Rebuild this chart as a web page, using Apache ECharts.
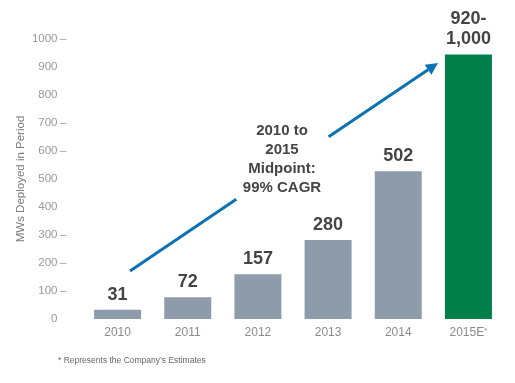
<!DOCTYPE html>
<html>
<head>
<meta charset="utf-8">
<script src="https://cdn.jsdelivr.net/npm/echarts@6/dist/echarts.min.js"></script>
<style>html,body{margin:0;padding:0;background:#fff}#c{width:515px;height:383px}</style>
</head>
<body>
<div id="c"></div>
<script>
const categories = ['2010', '2011', '2012', '2013', '2014', '2015E*'];
const barHeights = [33, 78, 160, 282, 528, 945];
const barLabels = ['31', '72', '157', '280', '502', '920-\n1,000'];
const yTicksWithDash = [100, 200, 300, 600, 700, 1000];
const annotationLines = ['2010 to', '2015', 'Midpoint:', '99% CAGR'];
const footnote = '* Represents the Company\u2019s Estimates';
const yAxisTitle = 'MWs Deployed in Period';

const GRAY = '#8d9bab', GREEN = '#007f4a', BLUE = '#0b72b4';
const FONT = 'Liberation Sans, Arial, sans-serif';

const chart = echarts.init(document.getElementById('c'), null, {renderer: 'canvas'});
const data = barHeights.map((v, i) => ({
  value: v,
  itemStyle: {color: i === barHeights.length - 1 ? GREEN : GRAY},
  label: {formatter: barLabels[i]}
}));

// arrow geometry (annotation)
const tip = [438, 63];
const start = [130, 271];
const dx = tip[0] - start[0], dy = tip[1] - start[1];
const L = Math.sqrt(dx * dx + dy * dy);
const u = [dx / L, dy / L], n = [-u[1], u[0]];
const hl = 12, hw = 6;
const base = [tip[0] - hl * u[0], tip[1] - hl * u[1]];
const gapA = 0.345, gapB = 0.645;
const pA = [start[0] + dx * gapA, start[1] + dy * gapA];
const pB = [start[0] + dx * gapB, start[1] + dy * gapB];

chart.setOption({
  animation: false,
  grid: {left: 82.5, right: 11.5, top: 39, bottom: 64},
  xAxis: {
    type: 'category',
    data: categories,
    axisLine: {show: false},
    axisTick: {show: false},
    axisLabel: {
      interval: 0,
      color: '#8a8a8a', fontFamily: FONT, fontSize: 12, margin: 8,
      formatter: v => v.endsWith('*') ? v.slice(0, -1) + '{s|*}' : v,
      rich: {s: {fontSize: 8, verticalAlign: 'top', color: '#8a8a8a', padding: [0, 0, 4, 0]}}
    }
  },
  yAxis: {
    type: 'value', min: 0, max: 1000, interval: 100,
    name: yAxisTitle, nameLocation: 'middle', nameGap: 56, nameMoveOverlap: false,
    nameTextStyle: {color: '#7a7a7a', fontFamily: FONT, fontSize: 11.5},
    axisLine: {show: false}, axisTick: {show: false}, splitLine: {show: false},
    axisLabel: {
      margin: 16, fontFamily: FONT,
      formatter: v => '{n|' + v + '}{d|' + (yTicksWithDash.includes(v) ? '\u2013' : '') + '}',
      rich: {
        n: {width: 30, align: 'right', color: '#999', fontSize: 11.5, fontFamily: FONT},
        d: {width: 9, align: 'right', color: '#999', fontSize: 11.5, fontFamily: FONT}
      }
    }
  },
  series: [{
    type: 'bar', data: data, barWidth: 47,
    label: {
      show: true, position: 'top', distance: 5,
      color: '#454545', fontFamily: FONT, fontWeight: 'bold', fontSize: 18, lineHeight: 20
    }
  }],
  graphic: [
    {type: 'line', shape: {x1: start[0], y1: start[1], x2: pA[0], y2: pA[1]}, style: {stroke: BLUE, lineWidth: 3}},
    {type: 'line', shape: {x1: pB[0], y1: pB[1], x2: base[0], y2: base[1]}, style: {stroke: BLUE, lineWidth: 3}},
    {type: 'polygon', shape: {points: [tip, [base[0] + hw * n[0], base[1] + hw * n[1]], [base[0] - hw * n[0], base[1] - hw * n[1]]]}, style: {fill: BLUE}},
    {type: 'text', x: 282, y: 121, style: {text: annotationLines.join('\n'), textAlign: 'center', fill: '#454545', font: 'bold 15px ' + FONT, lineHeight: 19}},
    {type: 'text', x: 58, y: 356, style: {text: footnote, fill: '#666', font: '8.5px ' + FONT}}
  ]
});
</script>
</body>
</html>
